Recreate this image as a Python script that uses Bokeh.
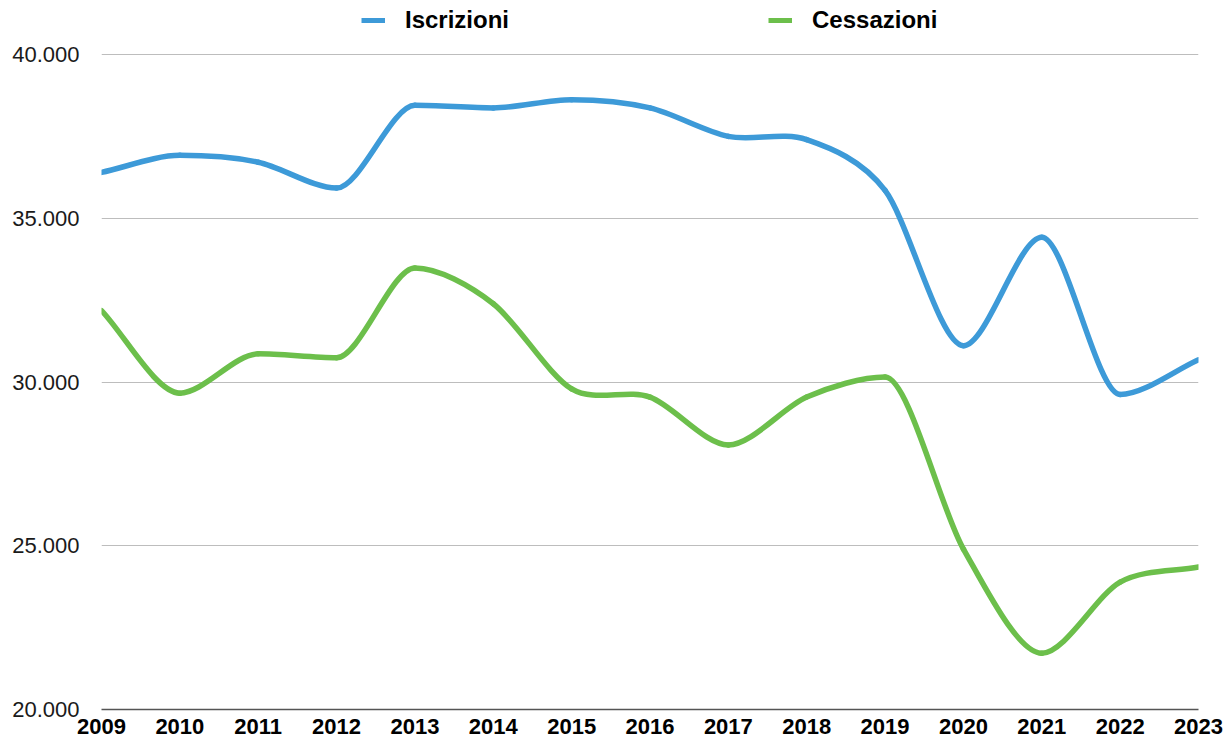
from bokeh.plotting import figure
from bokeh.models import (Range1d, FixedTicker, Legend, LegendItem, ColumnDataSource)
from bokeh.embed import file_html
from bokeh.resources import INLINE

years = [2009, 2010, 2011, 2012, 2013, 2014, 2015, 2016, 2017, 2018, 2019, 2020, 2021, 2022, 2023]
iscrizioni = [36400, 36920, 36710, 35920, 38450, 38370, 38620, 38370, 37500, 37400, 35850, 31110, 34420, 29620, 30680]
cessazioni = [32180, 29660, 30860, 30740, 33480, 32390, 29790, 29540, 28080, 29540, 30150, 24900, 21720, 23890, 24350]
y_ticks = [20000, 25000, 30000, 35000, 40000]
y_tick_labels = ["20.000", "25.000", "30.000", "35.000", "40.000"]
series_names = ["Iscrizioni", "Cessazioni"]
series_colors = ["#3D9AD8", "#6CBF4B"]

FONT = "Liberation Sans"
K = 0.3


def smooth_segments(xs, ys, k=K):
    n = len(xs)
    m = []
    for i in range(n):
        if i == 0:
            m.append((ys[1] - ys[0]) / (xs[1] - xs[0]))
        elif i == n - 1:
            m.append((ys[-1] - ys[-2]) / (xs[-1] - xs[-2]))
        else:
            a = (ys[i] - ys[i - 1]) / (xs[i] - xs[i - 1])
            b = (ys[i + 1] - ys[i]) / (xs[i + 1] - xs[i])
            m.append(0.0 if a * b <= 0 else (a + b) / 2)
    d = dict(x0=[], y0=[], x1=[], y1=[], cx0=[], cy0=[], cx1=[], cy1=[])
    for i in range(n - 1):
        dx = xs[i + 1] - xs[i]
        d["x0"].append(xs[i]); d["y0"].append(ys[i])
        d["x1"].append(xs[i + 1]); d["y1"].append(ys[i + 1])
        d["cx0"].append(xs[i] + k * dx); d["cy0"].append(ys[i] + k * dx * m[i])
        d["cx1"].append(xs[i + 1] - k * dx); d["cy1"].append(ys[i + 1] - k * dx * m[i + 1])
    return ColumnDataSource(d)


# the frame reaches the top of the canvas so that the legend (drawn inside the frame) is visible;
# the upper end of the y range leaves the 40.000 line 54px below the top edge
p = figure(width=1231, height=744, output_backend="svg", toolbar_location=None,
           x_range=Range1d(2009, 2023), y_range=Range1d(20000, 41649),
           min_border_left=101, min_border_right=33, min_border_top=0, min_border_bottom=35)
p.outline_line_color = None
p.background_fill_color = "white"
p.border_fill_color = "white"

p.xgrid.grid_line_color = None
p.ygrid.grid_line_color = "#BDBDBD"
p.ygrid.grid_line_width = 1
p.ygrid.ticker = FixedTicker(ticks=y_ticks)

p.yaxis.ticker = FixedTicker(ticks=y_ticks)
p.yaxis.major_label_overrides = {t: l for t, l in zip(y_ticks, y_tick_labels)}
p.yaxis.axis_line_color = None
p.yaxis.major_tick_line_color = None
p.yaxis.minor_tick_line_color = None
p.yaxis.major_tick_out = 0
p.yaxis.major_tick_in = 0
p.yaxis.major_label_standoff = 22
p.yaxis.major_label_text_font = FONT
p.yaxis.major_label_text_font_size = "22px"
p.yaxis.major_label_text_color = "#1A1A1A"

p.xaxis.ticker = FixedTicker(ticks=years)
p.xaxis.major_label_overrides = {y: str(y) for y in years}
p.xaxis.axis_line_color = "#555555"
p.xaxis.axis_line_width = 1.5
p.xaxis.major_tick_line_color = None
p.xaxis.minor_tick_line_color = None
p.xaxis.major_tick_out = 0
p.xaxis.major_tick_in = 0
p.xaxis.major_label_standoff = 9
p.xaxis.major_label_text_font = FONT
p.xaxis.major_label_text_font_size = "22px"
p.xaxis.major_label_text_font_style = "bold"
p.xaxis.major_label_text_color = "black"

renderers = []
for vals, color in zip([iscrizioni, cessazioni], series_colors):
    src = smooth_segments(years, vals)
    p.bezier(x0="x0", y0="y0", x1="x1", y1="y1", cx0="cx0", cy0="cy0", cx1="cx1", cy1="cy1",
             source=src, line_color=color, line_width=5.5, line_cap="round")
    # proxy for legend swatch (single point, draws nothing visible)
    r = p.line(x=[years[0]], y=[vals[0]], line_color=color, line_width=5)
    renderers.append(r)

for name, r, loc in zip(series_names, renderers, [(260, 675), (667, 675)]):
    lg = Legend(items=[LegendItem(label=name, renderers=[r])], location=loc,
                glyph_width=24, glyph_height=28, label_standoff=20, padding=0, margin=0,
                border_line_color=None, background_fill_alpha=0,
                label_text_font=FONT, label_text_font_size="24px", label_text_font_style="bold",
                label_text_color="black")
    p.add_layout(lg, "center")

open("out.html", "w").write(file_html(p, INLINE))
